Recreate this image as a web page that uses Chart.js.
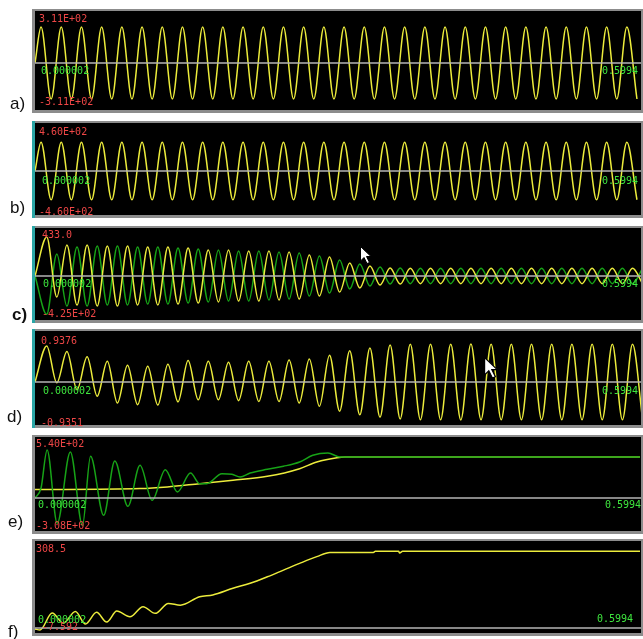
<!DOCTYPE html>
<html>
<head>
<meta charset="utf-8">
<title>Waveforms a-f</title>
<script src="https://cdn.jsdelivr.net/npm/chart.js@4.4.1/dist/chart.umd.min.js"></script>
<style>
    html, body { margin: 0; padding: 0; background: #fff; }
    body { position: relative; width: 643px; height: 639px; overflow: hidden; }
    .frame { position: absolute; left: 32px; width: 611px; background: #8c8c8c; }
    .screen { position: absolute; left: 3px; top: 2px; width: 606px; background: #000; }
    .edge { position: absolute; left: 0; top: 0; bottom: 0; width: 3px; }
    .txt { position: absolute; font: 10px "DejaVu Sans Mono", monospace; line-height: 10px; white-space: pre; }
    .name { position: absolute; font: 17px "Liberation Sans", Arial, sans-serif; line-height: 17px; color: #111; }
    .cursor { position: absolute; }
</style>
</head>
<body>
<script>
// time axis (s)
var tStart = 0;
var tEnd = 0.6;
var halfPeriod = 0.01;      // 50 Hz
var abFirstPeak = 0.006;
var cdFirstPeak = 0.0116;

// text shown on the screens
var panelNames = ['a)', 'b)', 'c)', 'd)', 'e)', 'f)'];
var topLabels = ['3.11E+02', '4.60E+02', '433.0', '0.9376', '5.40E+02', '308.5'];
var bottomLabels = ['-3.11E+02', '-4.60E+02', '-4.25E+02', '-0.9351', '-3.08E+02', '-7.592'];
var startLabel = '0.000002';
var endLabel = '0.5994';

// a) one value per half cycle
var aPeaks = [311, 311, 311, 311, 311, 311, 311, 311, 311, 311, 311, 311, 311, 311, 311,
              311, 311, 311, 311, 311, 311, 311, 311, 311, 311, 311, 311, 311, 311, 311];
var aTroughs = [-311, -311, -311, -311, -311, -311, -311, -311, -311, -311, -311, -311, -311, -311, -311,
                -311, -311, -311, -311, -311, -311, -311, -311, -311, -311, -311, -311, -311, -311, -311];

// b)
var bPeaks = [460, 460, 460, 460, 460, 460, 460, 460, 460, 460, 460, 460, 460, 460, 460,
              460, 460, 460, 460, 460, 460, 460, 460, 460, 460, 460, 460, 460, 460, 460];
var bTroughs = [-460, -460, -460, -460, -460, -460, -460, -460, -460, -460, -460, -460, -460, -460, -460,
                -460, -460, -460, -460, -460, -460, -460, -460, -460, -460, -460, -460, -460, -460, -460];

// c) yellow and green, opposite phase
var cYellowPeaks = [433, 344, 344, 333, 333, 322, 322, 311, 289, 289, 278, 278, 266, 233, 211,
                    144, 111, 89, 85, 85, 85, 85, 85, 85, 85, 85, 85, 85, 85, 85];
var cYellowTroughs = [-233, -322, -333, -333, -322, -322, -311, -300, -289, -278, -278, -266, -255, -222, -178,
                      -133, -100, -89, -85, -85, -85, -85, -85, -85, -85, -85, -85, -85, -85, -85];
var cGreenTroughs = [-425, -333, -333, -322, -322, -311, -311, -300, -289, -278, -278, -266, -255, -222, -189,
                     -144, -111, -89, -85, -85, -85, -85, -85, -85, -85, -85, -85, -85, -85, -85];
var cGreenPeaks = [244, 322, 333, 333, 322, 322, 311, 300, 289, 278, 278, 266, 255, 222, 178,
                   133, 100, 89, 85, 85, 85, 85, 85, 85, 85, 85, 85, 85, 85, 85];

// d)
var dPeaks = [0.89, 0.75, 0.62, 0.51, 0.41, 0.39, 0.44, 0.53, 0.51, 0.49, 0.51, 0.51, 0.54, 0.57, 0.66,
              0.77, 0.84, 0.91, 0.93, 0.93, 0.93, 0.9376, 0.93, 0.93, 0.93, 0.93, 0.93, 0.93, 0.93, 0.93];
var dTroughs = [-0.02, -0.19, -0.35, -0.52, -0.56, -0.57, -0.49, -0.44, -0.44, -0.46, -0.48, -0.48, -0.52, -0.60, -0.72,
                -0.81, -0.87, -0.91, -0.93, -0.93, -0.9351, -0.93, -0.93, -0.93, -0.93, -0.93, -0.93, -0.93, -0.93, -0.93];

// e) green (oscillating) and yellow (ramp)
var eGreenTime = [0, 0.006, 0.012, 0.022, 0.035, 0.047, 0.055, 0.068, 0.079, 0.092, 0.104, 0.116, 0.129, 0.141,
                  0.154, 0.163, 0.170, 0.185, 0.195, 0.203, 0.213, 0.230, 0.246, 0.262, 0.275, 0.290, 0.302, 0.599];
var eGreenValue = [0, 113, 540, -285, 518, -308, 469, -195, 416, -93, 368, -26, 318, 68,
                   281, 161, 161, 273, 267, 236, 281, 323, 357, 405, 480, 506, 461, 461];
var eYellowTime = [0, 0.104, 0.131, 0.163, 0.196, 0.230, 0.262, 0.279, 0.299, 0.307, 0.599];
var eYellowValue = [95, 106, 124, 161, 199, 244, 330, 405, 453, 461, 461];

// f)
var fTime = [0, 0.005, 0.017, 0.028, 0.040, 0.050, 0.061, 0.071, 0.081, 0.094, 0.107, 0.119, 0.132, 0.144, 0.163,
             0.176, 0.196, 0.213, 0.230, 0.246, 0.262, 0.279, 0.292, 0.335, 0.337, 0.360, 0.361, 0.364, 0.599];
var fValue = [-4, -7.6, 60, 20, 66, 16, 63, 24, 68, 45, 86, 59, 99, 92, 126,
              133, 160, 180, 206, 233, 260, 287, 304, 304, 308.5, 308.5, 302, 308.5, 308.5];

var YELLOW = '#ecec3c';
var GREEN = '#17a317';
var ZERO = '#b4b4b4';
var RED = '#ee4646';
var LGREEN = '#3ee63e';
var TEAL = '#2aa6a6';
var GRAY = '#8c8c8c';

function ScopePanels() { }

ScopePanels.prototype = {
    charts: [],

    // screen placement on the page (black area top / height, y range)
    layout: [
        { top: 11, h: 99, edge: GRAY, yMin: -406, yMax: 449, name: [10, 95], tl: [39, 14], bl: [39, 97], sl: [41, 66], el: [602, 66] },
        { top: 123, h: 92, edge: TEAL, yMin: -704, yMax: 768, name: [10, 199], tl: [39, 127], bl: [39, 207], sl: [42, 176], el: [602, 176] },
        { top: 228, h: 92, edge: TEAL, yMin: -488, yMax: 533, name: [12, 306], bold: true, tl: [42, 230], bl: [42, 309], sl: [43, 279], el: [602, 279] },
        { top: 331, h: 94, edge: TEAL, yMin: -1.061, yMax: 1.258, name: [7, 408], tl: [41, 336], bl: [41, 418], sl: [43, 386], el: [602, 386] },
        { top: 437, h: 94, edge: GRAY, yMin: -371, yMax: 686, name: [8, 513], tl: [36, 439], bl: [36, 521], sl: [38, 500], el: [605, 500] },
        { top: 541, h: 92, edge: GRAY, yMin: -20, yMax: 350, name: [8, 623], tl: [36, 544], bl: [42, 622], sl: [38, 615], el: [597, 614] }
    ],

    init: function () {
        var me = this;
        var traces = [
            [me.wave(abFirstPeak, aPeaks, aTroughs, 0)],
            [me.wave(abFirstPeak, bPeaks, bTroughs, 0)],
            [me.wave(cdFirstPeak, cYellowPeaks, cYellowTroughs, 0), me.wave(cdFirstPeak, cGreenTroughs, cGreenPeaks, 0)],
            [me.wave(cdFirstPeak, dPeaks, dTroughs, 0)],
            [me.pairs(eYellowTime, eYellowValue), me.pairs(eGreenTime, eGreenValue)],
            [me.pairs(fTime, fValue)]
        ];
        var colours = [[YELLOW], [YELLOW], [YELLOW, GREEN], [YELLOW], [YELLOW, GREEN], [YELLOW]];

        me.charts.forEach(chart => chart.destroy());
        me.charts = [];

        for (var i = 0; i < me.layout.length; i++) {
            me.drawPanel(i, traces[i], colours[i]);
        }
        me.drawCursor(360, 246, 1);
        me.drawCursor(484, 357, 1.2);
    },

    // alternate extremes, one per half cycle
    wave: function (firstPeak, onBeat, offBeat, startValue) {
        var pts = [{ x: tStart, y: startValue }];
        for (var i = 0; i < onBeat.length; i++) {
            pts.push({ x: firstPeak + 2 * i * halfPeriod, y: onBeat[i] });
            if (i < offBeat.length) pts.push({ x: firstPeak + (2 * i + 1) * halfPeriod, y: offBeat[i] });
        }
        return pts;
    },

    pairs: function (times, values) {
        return times.map((t, i) => ({ x: t, y: values[i] }));
    },

    addText: function (text, pos, cls, color, bold) {
        var d = document.createElement('div');
        d.className = cls;
        d.textContent = text;
        d.style.left = pos[0] + 'px';
        d.style.top = pos[1] + 'px';
        if (color) d.style.color = color;
        if (bold) d.style.fontWeight = 'bold';
        document.body.appendChild(d);
    },

    drawPanel: function (i, series, colours) {
        var me = this;
        var L = me.layout[i];

        var frame = document.createElement('div');
        frame.className = 'frame';
        frame.style.top = (L.top - 2) + 'px';
        frame.style.height = (L.h + 5) + 'px';
        var edge = document.createElement('div');
        edge.className = 'edge';
        edge.style.background = L.edge;
        frame.appendChild(edge);
        var screen = document.createElement('div');
        screen.className = 'screen';
        screen.style.height = L.h + 'px';
        var cv = document.createElement('canvas');
        cv.width = 606;
        cv.height = L.h;
        cv.style.display = 'block';
        screen.appendChild(cv);
        frame.appendChild(screen);
        document.body.appendChild(frame);

        // zero line first so it is drawn on top
        var datasets = [{
            data: [{ x: tStart, y: 0 }, { x: tEnd, y: 0 }],
            borderColor: ZERO,
            borderWidth: 1.5
        }];
        series.forEach(function (pts, k) {
            datasets.push({
                data: pts,
                borderColor: colours[k],
                borderWidth: 1.5,
                cubicInterpolationMode: 'monotone'
            });
        });
        // c): yellow above green, e): green above yellow
        if (i === 4) datasets.splice(1, 2, datasets[2], datasets[1]);

        me.charts.push(new Chart(cv, {
            type: 'line',
            data: { datasets: datasets },
            options: {
                responsive: false,
                animation: false,
                devicePixelRatio: 1,
                events: [],
                layout: { padding: 0 },
                elements: { point: { radius: 0 } },
                plugins: { legend: { display: false }, tooltip: { enabled: false } },
                scales: {
                    x: { type: 'linear', min: tStart, max: tEnd, display: false },
                    y: { min: L.yMin, max: L.yMax, display: false }
                }
            }
        }));

        me.addText(topLabels[i], L.tl, 'txt', RED);
        me.addText(bottomLabels[i], L.bl, 'txt', RED);
        me.addText(startLabel, L.sl, 'txt', LGREEN);
        me.addText(endLabel, L.el, 'txt', LGREEN);
        me.addText(panelNames[i], L.name, 'name', null, L.bold);
    },

    drawCursor: function (x, y, s) {
        var ns = 'http://www.w3.org/2000/svg';
        var svg = document.createElementNS(ns, 'svg');
        svg.setAttribute('class', 'cursor');
        svg.setAttribute('width', 13 * s);
        svg.setAttribute('height', 19 * s);
        svg.setAttribute('viewBox', '0 0 13 19');
        svg.style.left = x + 'px';
        svg.style.top = y + 'px';
        var p = document.createElementNS(ns, 'path');
        p.setAttribute('d', 'M0.5 0.5 L0.5 15 L4 11.5 L7 17.5 L9.5 16.5 L6.5 10.5 L11 10.5 Z');
        p.setAttribute('fill', '#fff');
        p.setAttribute('stroke', '#000');
        p.setAttribute('stroke-width', '1');
        svg.appendChild(p);
        document.body.appendChild(svg);
    }
};

var scope = new ScopePanels();
scope.init();
</script>
</body>
</html>
